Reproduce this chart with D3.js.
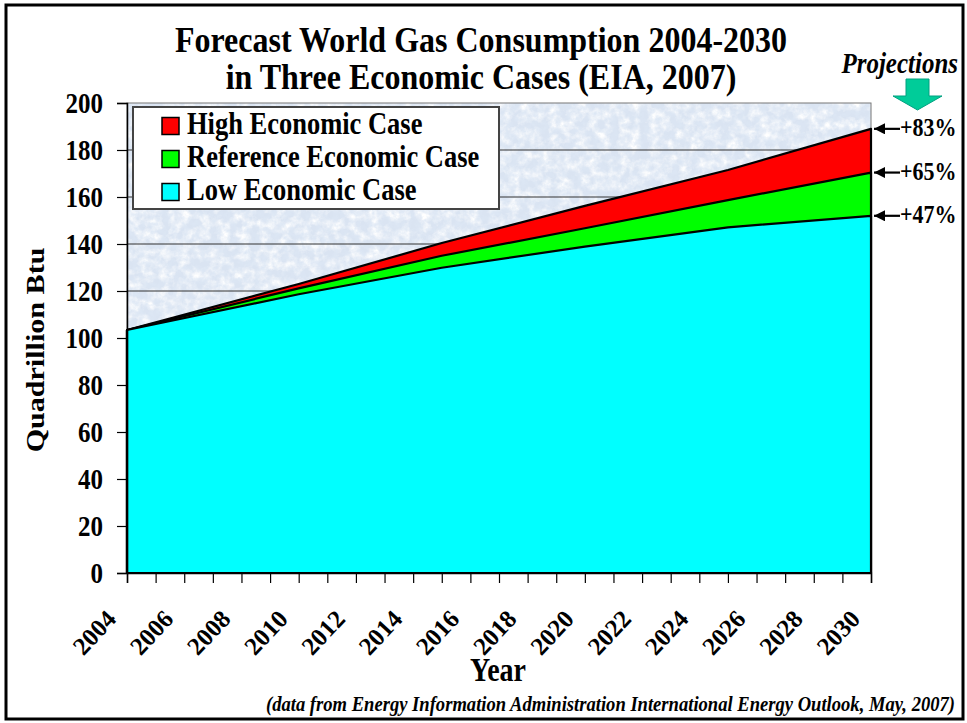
<!DOCTYPE html>
<html><head><meta charset="utf-8">
<script src="https://cdn.jsdelivr.net/npm/d3@7"></script>
<style>
html,body{margin:0;padding:0;background:#fff;}
svg text{font-family:"Liberation Serif","Times New Roman",serif;font-weight:bold;fill:#000;}
</style></head>
<body>
<svg id="chart" width="967" height="723"></svg>
<script>
// ---- data ----
const years = [2004, 2010, 2015, 2020, 2025, 2030];
const highCase = [103.4, 123.0, 140.4, 156.2, 171.5, 189.0];
const referenceCase = [103.4, 121.1, 135.0, 146.7, 158.7, 170.4];
const lowCase = [103.4, 118.6, 129.9, 138.9, 147.1, 152.0];
const seriesNames = ["High Economic Case", "Reference Economic Case", "Low Economic Case"];
const seriesColors = ["#ff0000", "#00ff00", "#00ffff"];
const changeLabels = ["+83%", "+65%", "+47%"];
const yTicks = [0, 20, 40, 60, 80, 100, 120, 140, 160, 180, 200];
const xTicks = d3.range(2004, 2031);
const xLabelYears = d3.range(2004, 2031, 2);

const svg = d3.select("#chart");
const L = 127, R = 871, T = 103, B = 573;
const SY = 1.18; // vertical stretch of the lettering

const x = d3.scaleLinear().domain([2004, 2030]).range([L, R]);
const y = d3.scaleLinear().domain([0, 200]).range([B, T]);

function stext(parent, px, py, str, size, anchor, italic, sy) {
  const t = parent.append("text")
    .attr("transform", `translate(${px},${py}) scale(1,${sy || SY})`)
    .attr("font-size", size).attr("text-anchor", anchor || "start").text(str);
  if (italic) t.attr("font-style", "italic");
  return t;
}

// defs
const defs = svg.append("defs");
const f = defs.append("filter").attr("id", "paper").attr("x", 0).attr("y", 0).attr("width", "100%").attr("height", "100%");
f.append("feTurbulence").attr("type", "fractalNoise").attr("baseFrequency", "0.1").attr("numOctaves", 4).attr("seed", 11);
f.append("feColorMatrix").attr("type", "matrix")
  .attr("values", "0 0 0 0 1  0 0 0 0 1  0 0 0 0 1  2.2 0 0 0 -0.8");
const f2 = defs.append("filter").attr("id", "paper2").attr("x", 0).attr("y", 0).attr("width", "100%").attr("height", "100%");
f2.append("feTurbulence").attr("type", "fractalNoise").attr("baseFrequency", "0.18").attr("numOctaves", 3).attr("seed", 4);
f2.append("feColorMatrix").attr("type", "matrix")
  .attr("values", "0 0 0 0 0.72  0 0 0 0 0.80  0 0 0 0 0.91  0 2.0 0 0 -0.75");
const mk = defs.append("marker").attr("id", "ah").attr("viewBox", "0 0 10 10").attr("refX", 10).attr("refY", 5)
  .attr("markerWidth", 5).attr("markerHeight", 5).attr("orient", "auto-start-reverse").attr("markerUnits", "strokeWidth");
mk.append("path").attr("d", "M0,0 L10,5 L0,10 Z").attr("fill", "#000");

// outer frame
svg.append("rect").attr("x", 6).attr("y", 5).attr("width", 957).attr("height", 714)
  .attr("fill", "#fff").attr("stroke", "#000").attr("stroke-width", 3);

// plot background
svg.append("rect").attr("x", L).attr("y", T).attr("width", R - L).attr("height", B - T).attr("fill", "#dae4f2");
svg.append("rect").attr("x", L).attr("y", T).attr("width", R - L).attr("height", B - T).attr("filter", "url(#paper)");
svg.append("rect").attr("x", L).attr("y", T).attr("width", R - L).attr("height", B - T).attr("filter", "url(#paper2)");

// gridlines
svg.append("g").selectAll("line").data(yTicks.filter(d => d > 0 && d < 200)).join("line")
  .attr("x1", L).attr("x2", R).attr("y1", d => y(d)).attr("y2", d => y(d))
  .attr("stroke", "#333").attr("stroke-width", 1);
svg.append("rect").attr("x", L).attr("y", T).attr("width", R - L).attr("height", B - T)
  .attr("fill", "none").attr("stroke", "#777").attr("stroke-width", 1);

// areas
const seriesData = [highCase, referenceCase, lowCase];
const area = d3.area().x((d, i) => x(years[i])).y0(y(0)).y1(d => y(d));
svg.append("g").selectAll("path").data(seriesData).join("path")
  .attr("d", d => area(d) + "Z")
  .attr("fill", (d, i) => seriesColors[i])
  .attr("stroke", "#000").attr("stroke-width", 2.2).attr("stroke-linejoin", "round");

// y axis
const yAxis = svg.append("g").attr("transform", `translate(${L},0)`)
  .call(d3.axisLeft(y).tickValues(yTicks).tickSize(10).tickPadding(14));
yAxis.select(".domain").attr("stroke", "#000").attr("stroke-width", 1.5);
yAxis.selectAll(".tick line").attr("stroke", "#000").attr("stroke-width", 1.2);
yAxis.selectAll("text").attr("font-size", 25).attr("font-family", null)
  .attr("x", null).attr("dy", "0.33em").attr("transform", `translate(-24,0) scale(1,${SY})`);

// x axis
const xAxis = svg.append("g").attr("transform", `translate(0,${B})`)
  .call(d3.axisBottom(x).tickValues(xTicks).tickSize(10)
    .tickFormat(d => xLabelYears.includes(d) ? String(d) : ""));
xAxis.select(".domain").attr("stroke", "#000").attr("stroke-width", 1.5);
xAxis.selectAll(".tick line").attr("stroke", "#000").attr("stroke-width", 1.2);
xAxis.selectAll("text").attr("font-size", 25).attr("font-family", null)
  .attr("y", null).attr("dy", null).attr("text-anchor", "end")
  .attr("transform", "translate(-10,47) rotate(-47)");

// axis titles
stext(svg, 498, 681, "Year", 28, "middle");
svg.append("text").attr("transform", `translate(44,350) scale(1,${SY}) rotate(-90)`)
  .attr("text-anchor", "middle").attr("font-size", 25.5).text("Quadrillion Btu");

// title
stext(svg, 481, 52, "Forecast World Gas Consumption 2004-2030", 32, "middle", false, 1.12);
stext(svg, 481, 89, "in Three Economic Cases (EIA, 2007)", 32, "middle", false, 1.12);

// projections
stext(svg, 958, 73, "Projections", 25, "end", true);
svg.append("path").attr("d", "M906,79 L929,79 L929,96 L942,96 L917.5,110 L893,96 L906,96 Z")
  .attr("fill", "#00cc99").attr("stroke", "#00a080").attr("stroke-width", 1);

// legend
const lg = svg.append("g");
lg.append("rect").attr("x", 133).attr("y", 107).attr("width", 366).attr("height", 102)
  .attr("fill", "#fff").attr("stroke", "#444").attr("stroke-width", 2);
seriesNames.forEach((name, i) => {
  const cy = 126 + i * 33;
  lg.append("rect").attr("x", 162).attr("y", cy - 8.5).attr("width", 17).attr("height", 17)
    .attr("fill", seriesColors[i]).attr("stroke", "#000").attr("stroke-width", 1.5);
  stext(lg, 187, cy + 8, name, 26.5);
});

// change annotations
const ends = seriesData.map(s => s[s.length - 1]);
ends.forEach((v, i) => {
  const yy = y(v);
  svg.append("line").attr("x1", 900).attr("x2", 874).attr("y1", yy).attr("y2", yy)
    .attr("stroke", "#000").attr("stroke-width", 2.2).attr("marker-end", "url(#ah)");
  stext(svg, 900, yy + 7, changeLabels[i], 22);
});

// footnote
stext(svg, 955, 711, "(data from Energy Information Administration International Energy Outlook, May, 2007)", 18.6, "end", true);
</script>
</body></html>
